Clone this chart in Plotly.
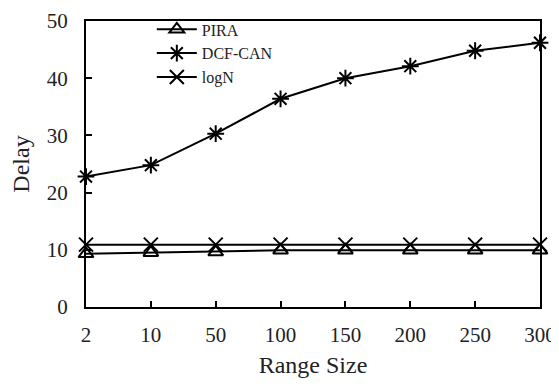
import plotly.graph_objects as go

categories = ["2", "10", "50", "100", "150", "200", "250", "300"]
pira = [9.3, 9.5, 9.6, 9.9, 9.9, 9.9, 9.9, 9.9]
dcf_can = [22.8, 24.8, 30.3, 36.4, 40.0, 42.1, 44.8, 46.2]
logn = [10.9, 10.9, 10.9, 10.9, 10.9, 10.9, 10.9, 10.9]

font_family = "Liberation Serif, Times New Roman, serif"

fig = go.Figure()
fig.add_trace(go.Scatter(
    x=categories, y=pira, name="PIRA", mode="lines+markers",
    line=dict(color="black", width=2),
    marker=dict(symbol="triangle-up-open", size=13, color="black", line=dict(width=2)),
    cliponaxis=False,
))
fig.add_trace(go.Scatter(
    x=categories, y=dcf_can, name="DCF-CAN", mode="lines+markers",
    line=dict(color="black", width=2),
    marker=dict(symbol="asterisk-open", size=14, color="black", line=dict(width=2)),
    cliponaxis=False,
))
fig.add_trace(go.Scatter(
    x=categories, y=logn, name="logN", mode="lines+markers",
    line=dict(color="black", width=2),
    marker=dict(symbol="x-thin-open", size=14, color="black", line=dict(width=2)),
    cliponaxis=False,
))

fig.update_layout(
    width=551, height=370,
    margin=dict(l=78, r=19, t=13, b=71, autoexpand=False),
    paper_bgcolor="white", plot_bgcolor="white",
    font=dict(family=font_family, size=21, color="#222"),
    showlegend=True,
    legend=dict(
        x=0.145, y=1.03, xanchor="left", yanchor="top",
        bgcolor="rgba(0,0,0,0)", font=dict(size=16, color="#222"),
        tracegroupgap=0, itemwidth=40,
    ),
    xaxis=dict(
        type="category", range=[0, 7], automargin=False,
        showline=True, linecolor="black", linewidth=2, mirror=True,
        ticks="inside", ticklen=6, tickwidth=2, tickcolor="black",
        showgrid=False, zeroline=False,
        ticklabelstandoff=8, ticklabeloverflow="allow",
        title=dict(text="Range Size", standoff=12, font=dict(size=24)),
    ),
    yaxis=dict(
        range=[0, 50], dtick=10, automargin=False,
        showline=True, linecolor="black", linewidth=2, mirror=True,
        ticks="inside", ticklen=6, tickwidth=2, tickcolor="black",
        showgrid=False, zeroline=False,
        ticklabelstandoff=12, ticklabeloverflow="allow",
        title=dict(text="Delay", standoff=12, font=dict(size=24)),
    ),
)

fig.write_html("out.html")
